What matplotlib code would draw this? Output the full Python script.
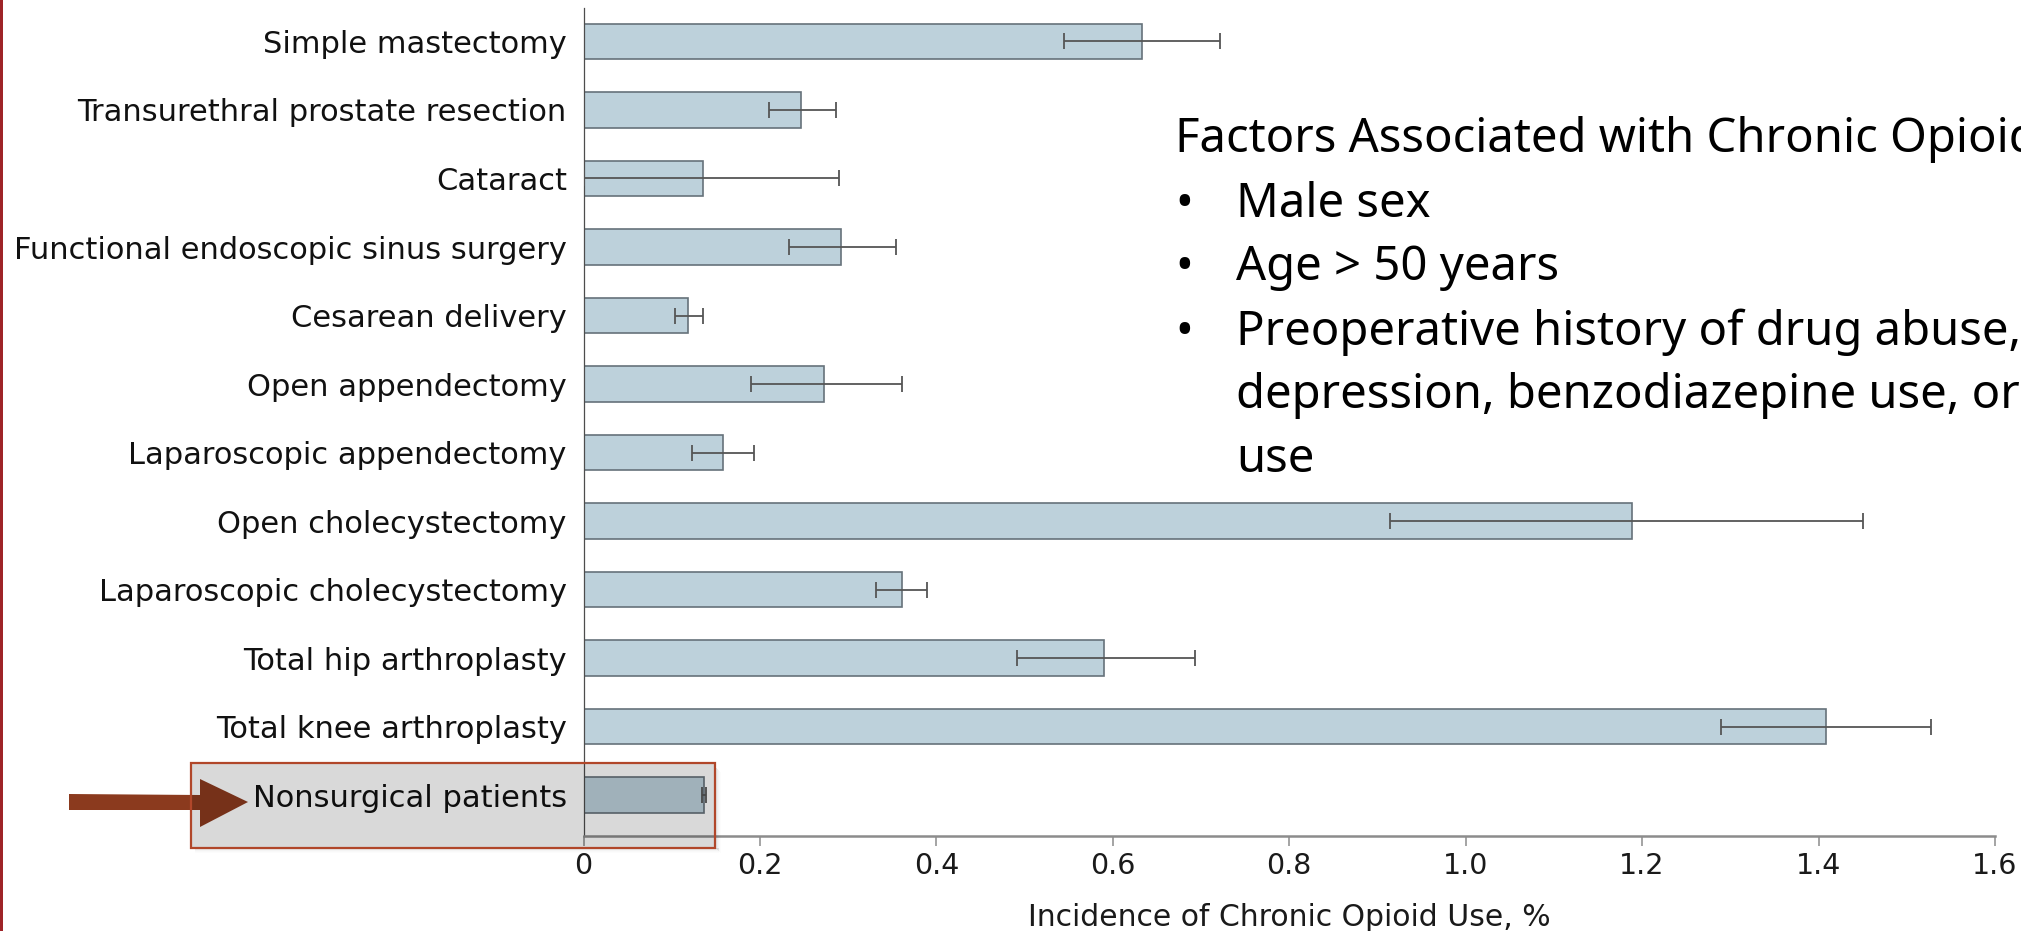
import numpy as np
import matplotlib
matplotlib.use("Agg")
import matplotlib.pyplot as plt
from matplotlib.patches import Rectangle, Polygon

# Procedures, top to bottom
procedures = [
    "Simple mastectomy",
    "Transurethral prostate resection",
    "Cataract",
    "Functional endoscopic sinus surgery",
    "Cesarean delivery",
    "Open appendectomy",
    "Laparoscopic appendectomy",
    "Open cholecystectomy",
    "Laparoscopic cholecystectomy",
    "Total hip arthroplasty",
    "Total knee arthroplasty",
    "Nonsurgical patients",
]
# Incidence of chronic opioid use (%) with 95% CI bounds
incidence = np.array([0.633, 0.247, 0.136, 0.292, 0.118, 0.273, 0.158,
                      1.189, 0.361, 0.590, 1.408, 0.137])
ci_low = np.array([0.545, 0.210, 0.000, 0.233, 0.104, 0.190, 0.123,
                   0.914, 0.332, 0.491, 1.289, 0.134])
ci_high = np.array([0.722, 0.286, 0.290, 0.354, 0.135, 0.361, 0.193,
                    1.450, 0.389, 0.693, 1.528, 0.139])

x_ticks = [0, 0.2, 0.4, 0.6, 0.8, 1.0, 1.2, 1.4, 1.6]
x_tick_labels = ["0", "0.2", "0.4", "0.6", "0.8", "1.0", "1.2", "1.4", "1.6"]
x_title = "Incidence of Chronic Opioid Use, %"

panel_title = "Factors Associated with Chronic Opioid Use"
panel_lines = [
    ("•", "Male sex"),
    ("•", "Age > 50 years"),
    ("•", "Preoperative history of drug abuse, alcohol abuse,"),
    ("", "depression, benzodiazepine use, or antidepressant"),
    ("", "use"),
]

W, H = 2021, 931
fig = plt.figure(figsize=(W / 100, H / 100), dpi=100)
fig.patch.set_facecolor("white")


def fx(px):
    return px / W


def fy(py):
    return 1 - py / H


ax_left, ax_right, ax_top, ax_bottom = 583.5, 1995.0, 8.0, 835.7
ax = fig.add_axes([fx(ax_left), fy(ax_bottom),
                   fx(ax_right - ax_left), (ax_bottom - ax_top) / H])

y = np.arange(len(procedures))
ax.barh(y, incidence, height=0.515, color="#bdd1db", edgecolor="#66727a",
        linewidth=1.2, zorder=2)
ax.errorbar(incidence, y, xerr=[incidence - ci_low, ci_high - incidence],
            fmt="none", ecolor="#555555", elinewidth=1.3, capsize=5.6,
            capthick=1.3, zorder=3)

ax.set_xlim(0, 1.6)
ax.set_ylim(len(procedures) - 1 + 0.594, -0.489)
ax.set_xticks(x_ticks)
ax.set_xticklabels(x_tick_labels, fontsize=20.5, color="#1a1a1a",
                   family="DejaVu Sans")
ax.set_yticks(y)
ax.set_yticklabels(procedures, fontsize=22, color="#111111",
                   family="DejaVu Sans")
ax.tick_params(axis="y", length=0, pad=12)
ax.tick_params(axis="x", direction="out", length=7, width=1.1,
               color="#8c8c8c", pad=5)

for side in ("top", "right"):
    ax.spines[side].set_visible(False)
ax.spines["left"].set_color("#4d4d4d")
ax.spines["left"].set_linewidth(0.9)
ax.spines["bottom"].set_color("#8c8c8c")
ax.spines["bottom"].set_linewidth(1.8)

ax.set_xlabel(x_title, fontsize=21.5, color="#1a1a1a", family="DejaVu Sans")
ax.xaxis.label.set_va("baseline")
ax.xaxis.set_label_coords(0.5, -(926 - ax_bottom) / (ax_bottom - ax_top))

# Side panel text
fig.text(fx(1175), fy(152), panel_title, fontsize=34, family="Noto Sans",
         color="black", va="baseline", ha="left")
baselines = [217, 280, 345, 408, 472]
for (bullet, line), b in zip(panel_lines, baselines):
    if bullet:
        fig.text(fx(1175), fy(b), bullet, fontsize=34, family="Noto Sans",
                 color="black", va="baseline", ha="left")
    fig.text(fx(1236), fy(b), line, fontsize=34, family="Noto Sans",
             color="black", va="baseline", ha="left")

# Slide border on the left edge
fig.add_artist(Rectangle((0, 0), fx(3), 1, transform=fig.transFigure,
                         facecolor="#9e2328", edgecolor="none", zorder=5))

# Pointer arrow towards the nonsurgical row
arrow_pts = [(69, 794), (200, 795), (200, 779), (248, 802),
             (200, 827), (200, 810), (69, 810)]
fig.add_artist(Polygon([(fx(px), fy(py)) for px, py in arrow_pts],
                       closed=True, transform=fig.transFigure,
                       facecolor="#8b3a1e", edgecolor="none", zorder=3))

# Soft drop shadow of the highlight box
bx0, by0, bx1, by1 = 191, 763, 715, 848
for k, a in enumerate([0.10, 0.07, 0.045, 0.025, 0.012]):
    fig.add_artist(Rectangle((fx(bx0 + 4), fy(by1 + k + 1)),
                             fx(bx1 - bx0), 1 / H,
                             transform=fig.transFigure,
                             facecolor=(0, 0, 0, a), edgecolor="none",
                             zorder=3))
    fig.add_artist(Rectangle((fx(bx1 + k + 1), fy(by1 + k + 1)),
                             1 / W, (by1 - by0 - 4) / H,
                             transform=fig.transFigure,
                             facecolor=(0, 0, 0, a), edgecolor="none",
                             zorder=3))

# Highlight box around the nonsurgical row
fig.add_artist(Rectangle((fx(bx0), fy(by1)), fx(bx1 - bx0), (by1 - by0) / H,
                         transform=fig.transFigure,
                         facecolor=(0, 0, 0, 0.15), edgecolor="#b1472a",
                         linewidth=1.6, zorder=4))

fig.savefig("out.png", dpi=100, facecolor="white")
